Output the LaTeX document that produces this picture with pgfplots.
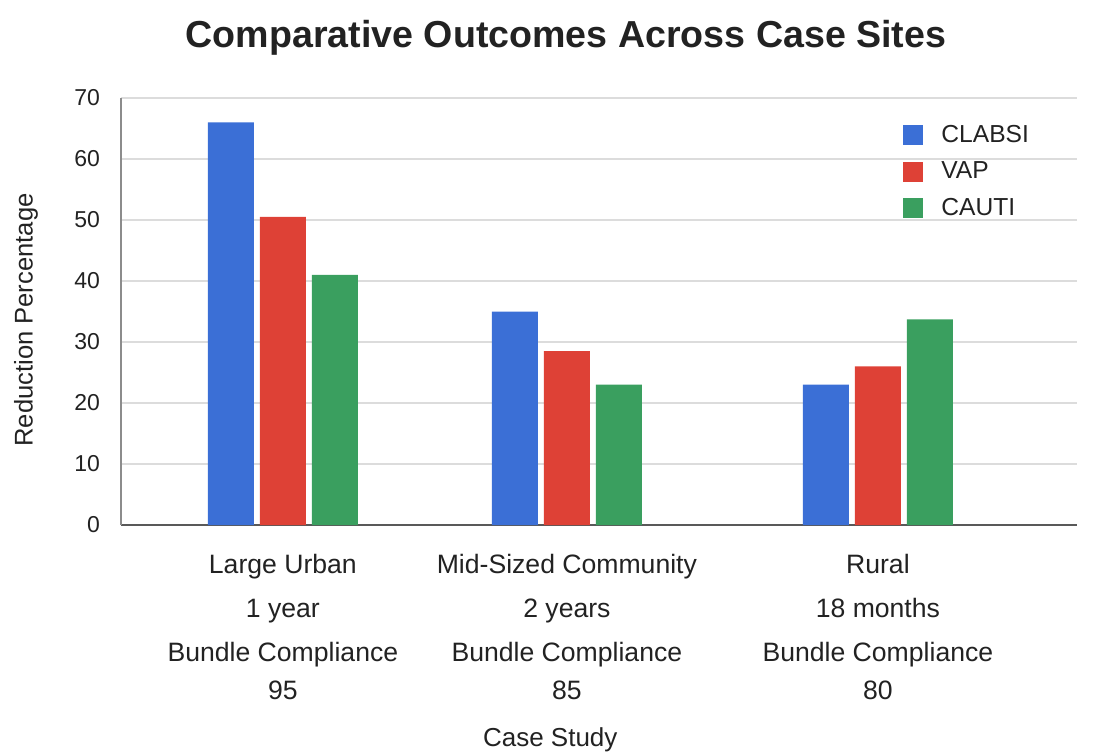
\documentclass[border=0pt]{standalone}
\usepackage{pgfplots}
\pgfplotsset{compat=1.18}
\usepackage{fontspec}
\setmainfont{Liberation Sans}
\definecolor{cblue}{HTML}{3B6FD6}
\definecolor{cred}{HTML}{DE4136}
\definecolor{cgreen}{HTML}{3A9F5F}
\definecolor{gridc}{HTML}{DCDCDC}
\definecolor{txt}{HTML}{222222}
\begin{document}
\begin{tikzpicture}
\begin{axis}[
  at={(60.5pt,113pt)}, anchor=south west,
  scale only axis, width=478pt, height=213.5pt,
  xmin=-0.570, xmax=2.796, ymin=0, ymax=70,
  xtick={0,1,2.095},
  xticklabels={{Large Urban\\[3pt]1 year\\[3pt]Bundle Compliance\\95},
               {Mid-Sized Community\\[3pt]2 years\\[3pt]Bundle Compliance\\85},
               {Rural\\[3pt]18 months\\[3pt]Bundle Compliance\\80}},
  xticklabel style={align=center, font=\fontsize{13.3}{19}\selectfont, text=txt, anchor=north, yshift=-11pt},
  ytick={0,10,...,70},
  yticklabel style={font=\fontsize{11.5}{13}\selectfont, text=txt, xshift=-7pt},
  /pgf/number format/assume math mode=true,
  major tick length=0pt,
  ymajorgrids, grid style={gridc, line width=0.6pt},
  axis x line*=bottom, axis y line*=left,
  axis line style={-},
  x axis line style={draw=black!65, line width=0.9pt},
  y axis line style={draw=black!45, line width=0.8pt},
  title={Comparative Outcomes Across Case Sites},
  title style={font=\bfseries\fontsize{18.8}{22}\selectfont, text=txt, at={(rel axis cs:0.4655,1.112)}, anchor=center},
  xlabel={Case Study},
  xlabel style={font=\fontsize{13}{15}\selectfont, text=txt, at={(rel axis cs:0.449,-0.502)}, anchor=center},
  ylabel={Reduction Percentage},
  ylabel style={font=\fontsize{12.8}{14}\selectfont, text=txt, at={(rel axis cs:-0.0994,0.48)}, anchor=center, rotate=0},
  legend style={draw=none, fill=none, at={(rel axis cs:0.818,0.947)}, anchor=north west,
    font=\fontsize{12.3}{14}\selectfont, text=txt, row sep=4.3pt, inner sep=0pt},
  legend cell align=left,
  legend image code/.code={\fill[#1] (0pt,-5pt) rectangle (10pt,5pt); \path (17pt,0pt);},
]
\addplot[ybar, bar width=23pt, bar shift=-26pt, fill=cblue, draw=none] coordinates {(0,66) (1,35) (2.095,23)};
\addplot[ybar, bar width=23pt, bar shift=0pt, fill=cred, draw=none] coordinates {(0,50.5) (1,28.5) (2.095,26)};
\addplot[ybar, bar width=23pt, bar shift=26pt, fill=cgreen, draw=none] coordinates {(0,41) (1,23) (2.095,33.7)};
\legend{CLABSI, VAP, CAUTI}
\end{axis}
\pgfresetboundingbox
\path (0,0) rectangle (547pt,375.5pt);
\end{tikzpicture}
\end{document}
